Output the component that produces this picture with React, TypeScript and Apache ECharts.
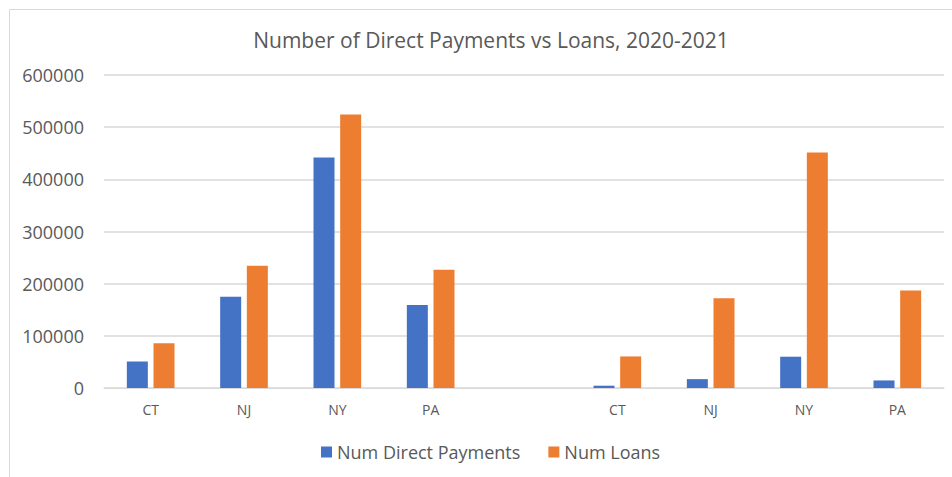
import React, { useEffect, useRef } from "react";
import * as echarts from "echarts";

const categories = ["CT", "NJ", "NY", "PA", "", "CT", "NJ", "NY", "PA"];
const directPayments = [51000, 175000, 442000, 159000, null, 4400, 17000, 60000, 14500];
const loans = [86000, 234500, 524500, 226500, null, 60500, 172000, 451500, 187000];
const yTicks = { min: 0, max: 600000, interval: 100000 };

const FONT = "'Open Sans', sans-serif";
const TEXT = "#595959";

export default function App() {
  const ref = useRef<HTMLDivElement>(null);
  useEffect(() => {
    if (!ref.current) return;
    const chart = echarts.init(ref.current, null, { renderer: "svg" });
    chart.setOption({
      animation: false,
      backgroundColor: "#ffffff",
      textStyle: { fontFamily: FONT, color: TEXT },
      title: {
        text: "Number of Direct Payments vs Loans, 2020-2021",
        left: 486,
        textAlign: "center",
        top: 24,
        textStyle: { fontFamily: FONT, fontSize: 21, fontWeight: "normal", color: TEXT },
      },
      graphic: [
        {
          type: "rect",
          shape: { x: 9.5, y: 9.5, width: 1000, height: 1000 },
          style: { fill: "none", stroke: "#d9d9d9", lineWidth: 1 },
          silent: true,
        },
      ],
      legend: {
        data: ["Num Direct Payments", "Num Loans"],
        left: 316,
        top: 438,
        itemWidth: 11,
        itemHeight: 11,
        itemGap: 28,
        icon: "rect",
        textStyle: { fontFamily: FONT, fontSize: 18, color: TEXT },
      },
      grid: { left: 104, right: 8, top: 75, bottom: 477 - 388, containLabel: false },
      xAxis: {
        type: "category",
        data: categories,
        axisLine: { lineStyle: { color: "#d9d9d9", width: 1 } },
        axisTick: { show: false },
        axisLabel: { fontFamily: FONT, fontSize: 14, color: TEXT, margin: 14 },
      },
      yAxis: {
        type: "value",
        min: yTicks.min,
        max: yTicks.max,
        interval: yTicks.interval,
        axisLine: { show: false },
        axisTick: { show: false },
        axisLabel: {
          fontFamily: FONT,
          fontSize: 18,
          color: TEXT,
          margin: 20,
          formatter: (v: number) => String(v),
        },
        splitLine: { lineStyle: { color: "#d9d9d9", width: 1.5 } },
      },
      series: [
        {
          name: "Num Direct Payments",
          type: "bar",
          data: directPayments,
          barWidth: 21,
          barGap: "27%",
          itemStyle: { color: "#4472C4" },
        },
        {
          name: "Num Loans",
          type: "bar",
          data: loans,
          barWidth: 21,
          barGap: "27%",
          itemStyle: { color: "#ED7D31" },
        },
      ],
    });
    return () => chart.dispose();
  }, []);
  return (
    <div
      ref={ref}
      style={{ position: "fixed", left: 0, top: 0, width: 952, height: 477 }}
    />
  );
}
